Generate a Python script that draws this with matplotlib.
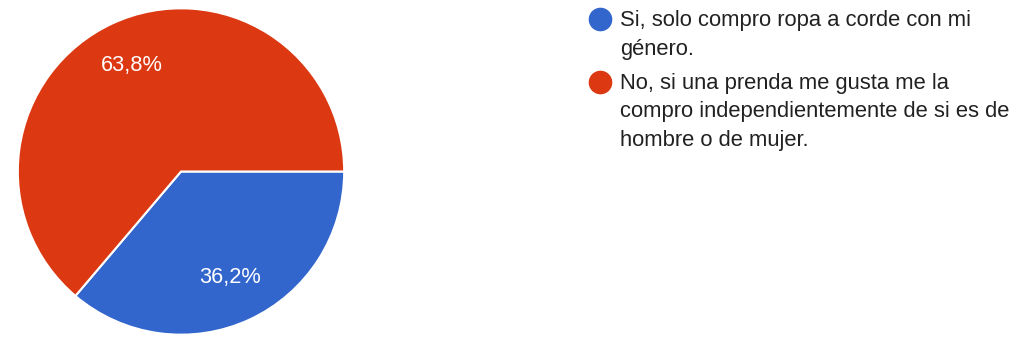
import matplotlib.pyplot as plt
from matplotlib.lines import Line2D

respuestas = ["Si, solo compro ropa a corde con mi\ngénero.",
              "No, si una prenda me gusta me la\ncompro independientemente de si es de\nhombre o de mujer."]
porcentajes = [36.2, 63.8]
colores = ["#3366cc", "#dc3912"]

plt.rcParams['font.family'] = ['Liberation Sans', 'DejaVu Sans']

W, H = 1013, 338
fig = plt.figure(figsize=(W / 100, H / 100), dpi=100)
ax = fig.add_axes([17 / W, 2.5 / H, 328 / W, 328 / H])
ax.pie(porcentajes, colors=colores, startangle=0, counterclock=False,
       autopct=lambda p: f"{p:.1f}%".replace(".", ","), pctdistance=0.715,
       wedgeprops=dict(edgecolor="white", linewidth=1.5),
       textprops=dict(color="white", fontsize=15.7))
ax.set_xlim(-1.005, 1.005)
ax.set_ylim(-1.005, 1.005)
ax.set_aspect("equal")

# leyenda: circulo + una linea de texto por renglon
paso = 28.5
y_base = [26, 89]
for texto, color, y0 in zip(respuestas, colores, y_base):
    fig.add_artist(Line2D([600 / W], [1 - (y0 - 7) / H], marker="o", markersize=16,
                          color=color, linestyle="none", transform=fig.transFigure))
    for i, linea in enumerate(texto.split("\n")):
        fig.text(620 / W, 1 - (y0 + i * paso) / H, linea, va="baseline", ha="left",
                 fontsize=15.8, color="#212121")

fig.savefig("out.png", dpi=100, facecolor="white")
